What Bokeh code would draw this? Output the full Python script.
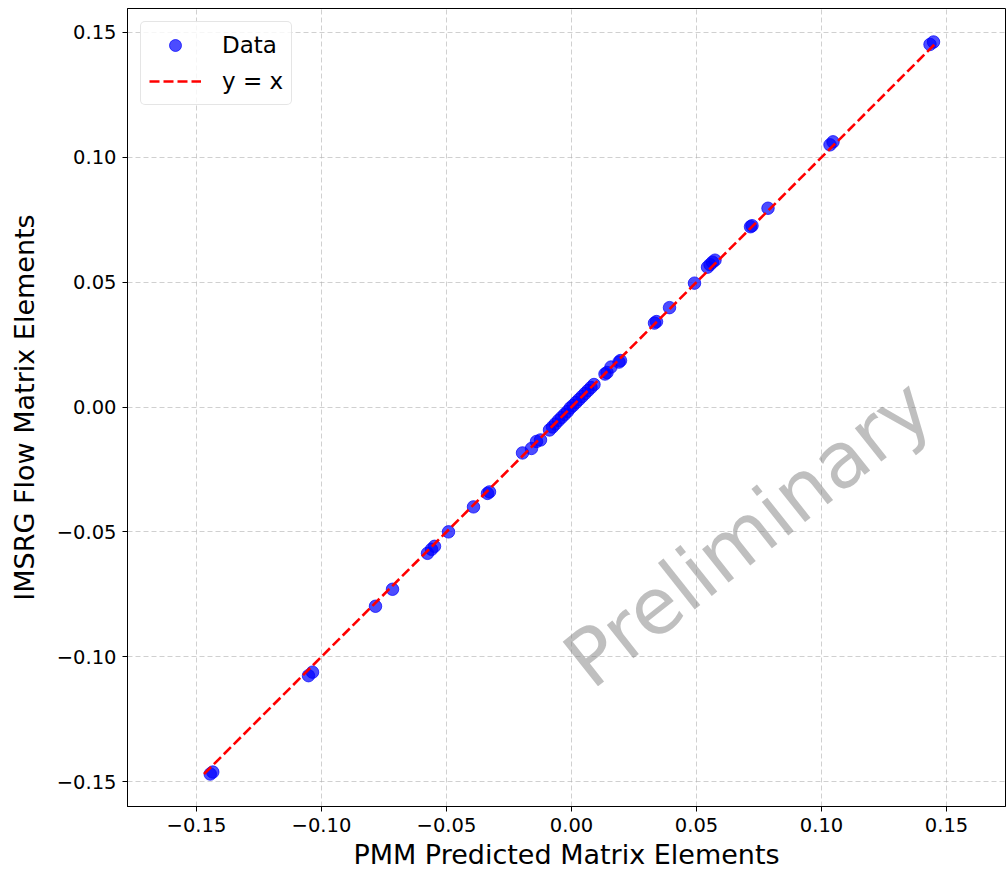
from bokeh.plotting import figure
from bokeh.models import (FixedTicker, CustomJSTickFormatter, Range1d, Label,
                          ColumnDataSource, Legend, LegendItem)
from bokeh.embed import file_html
from bokeh.resources import INLINE

# PMM predicted (x) vs IMSRG flow (y) matrix elements
pmm_pred = [-0.1445, -0.1435, -0.1052, -0.1036, -0.0784, -0.0716, -0.0576, -0.0560,
            -0.0548, -0.0492, -0.0392, -0.0336, -0.0328, -0.0196, -0.0160, -0.0140,
            -0.0124, -0.0088, -0.0076, -0.0065, -0.0052, -0.0040, -0.0028, -0.0016,
            -0.0005, 0.0006, 0.0018, 0.0030, 0.0042, 0.0054, 0.0066, 0.0078,
            0.0090, 0.0134, 0.0142, 0.0158, 0.0190, 0.0196, 0.0332, 0.0340,
            0.0392, 0.0492, 0.0544, 0.0554, 0.0564, 0.0574, 0.0716, 0.0722,
            0.0786, 0.1034, 0.1046, 0.1434, 0.1448]
imsrg_flow = [-0.1470, -0.1462, -0.1076, -0.1062, -0.0798, -0.0730, -0.0586, -0.0570,
              -0.0558, -0.0500, -0.0400, -0.0346, -0.0340, -0.0184, -0.0166, -0.0138,
              -0.0132, -0.0092, -0.0080, -0.0068, -0.0054, -0.0042, -0.0030, -0.0018,
              -0.0004, 0.0006, 0.0018, 0.0030, 0.0042, 0.0054, 0.0066, 0.0078,
              0.0090, 0.0132, 0.0138, 0.0160, 0.0180, 0.0186, 0.0336, 0.0342,
              0.0398, 0.0496, 0.0560, 0.0570, 0.0580, 0.0588, 0.0722, 0.0726,
              0.0796, 0.1050, 0.1062, 0.1452, 0.1462]
tick_values = [-0.15, -0.10, -0.05, 0.00, 0.05, 0.10, 0.15]

FONT = "DejaVu Sans"

p = figure(width=1006, height=872, output_backend="svg", toolbar_location=None,
           x_range=Range1d(-0.1776, 0.1736), y_range=Range1d(-0.160, 0.1596),
           min_border_left=127, min_border_top=8, min_border_right=1,
           min_border_bottom=65)
p.background_fill_color = "white"
p.border_fill_color = "white"
p.outline_line_color = "black"
p.outline_line_width = 1

fmt = CustomJSTickFormatter(code="""
    const v = Math.abs(tick) < 1e-9 ? 0 : tick;
    return (v < 0 ? '\\u2212' : '') + Math.abs(v).toFixed(2);
""")
for ax in (p.xaxis[0], p.yaxis[0]):
    ax.ticker = FixedTicker(ticks=tick_values)
    ax.formatter = fmt
    ax.major_label_text_font = FONT
    ax.major_label_text_font_size = "19.5px"
    ax.major_label_text_color = "black"
    ax.axis_label_text_font = FONT
    ax.axis_label_text_font_size = "27px"
    ax.axis_label_text_font_style = "normal"
    ax.axis_label_text_color = "black"
    ax.major_tick_out = 5
    ax.major_tick_in = 0
    ax.minor_tick_line_color = None
    ax.axis_line_color = "black"
    ax.major_tick_line_color = "black"
    ax.major_label_standoff = 6

p.xaxis.axis_label = "PMM Predicted Matrix Elements"
p.yaxis.axis_label = "IMSRG Flow Matrix Elements"
p.xaxis.axis_label_standoff = 4
p.yaxis.axis_label_standoff = 14

for g in (p.xgrid[0], p.ygrid[0]):
    g.ticker = FixedTicker(ticks=tick_values)
    g.grid_line_color = "#b0b0b0"
    g.grid_line_alpha = 0.6
    g.grid_line_dash = "5 3"
    g.grid_line_width = 1

src = ColumnDataSource(dict(x=pmm_pred, y=imsrg_flow))
lo = min(min(pmm_pred), min(imsrg_flow))
hi = max(max(pmm_pred), max(imsrg_flow))

sc = p.scatter("x", "y", source=src, size=12.5, fill_color="blue", line_color="blue",
               fill_alpha=0.7, line_alpha=0.7)
ln = p.line([lo, hi], [lo, hi], line_color="red", line_width=2.6, line_dash="10 4")

p.add_layout(Label(x=0.0705, y=-0.0505, text="Preliminary", angle=0.67,
                   text_align="center", text_baseline="middle",
                   text_font=FONT, text_font_size="78px",
                   text_color="gray", text_alpha=0.5))

legend = Legend(items=[LegendItem(label="Data", renderers=[sc]),
                       LegendItem(label="y = x", renderers=[ln])],
                location="top_left")
legend.margin = 13
legend.padding = 8
legend.spacing = 6
legend.glyph_width = 52
legend.glyph_height = 30
legend.label_height = 30
legend.label_standoff = 21
legend.label_text_font = FONT
legend.label_text_font_size = "23px"
legend.label_text_color = "black"
legend.border_line_color = "#cccccc"
legend.border_line_width = 1
legend.background_fill_alpha = 0.8
try:
    legend.border_radius = 5
except Exception:
    pass
p.add_layout(legend)

open("out.html", "w").write(file_html(p, INLINE))
